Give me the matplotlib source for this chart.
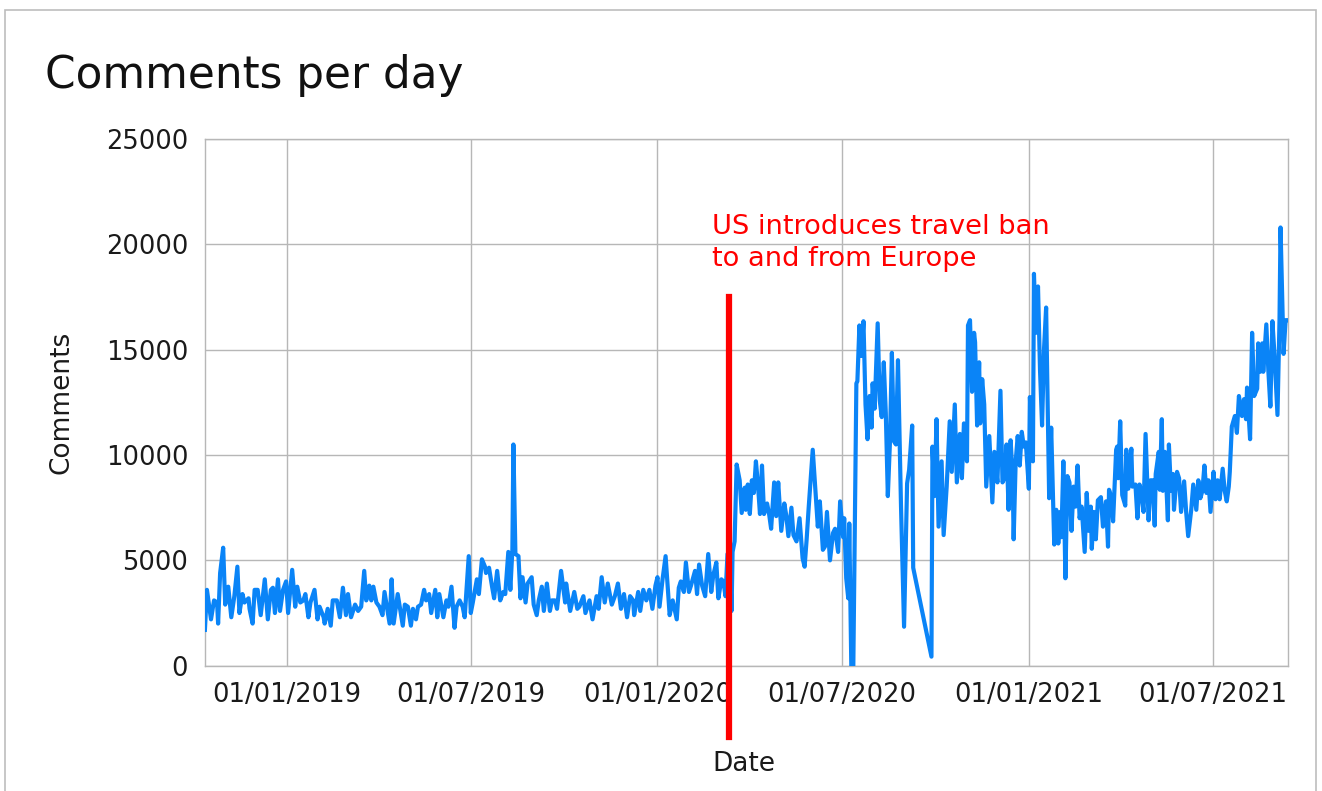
import numpy as np
import pandas as pd
import matplotlib
matplotlib.use("Agg")
import matplotlib.pyplot as plt
import matplotlib.dates as mdates
from matplotlib.patches import Rectangle

# data: days after the first date, comments on that day
start_date = "2018-10-12"
day = [
    0, 2, 6, 9, 12, 13, 15, 18, 20, 23, 26, 29, 32, 34, 37, 39, 43, 44, 47, 49,
    52, 55, 59, 62, 65, 67, 69, 72, 74, 77, 80, 82, 86, 89, 91, 94, 97, 99, 102, 104,
    108, 111, 113, 117, 118, 121, 124, 126, 130, 133, 136, 139, 141, 144, 148, 151, 154, 157, 159, 162,
    164, 166, 169, 172, 175, 177, 182, 184, 186, 190,
    192, 195, 197, 200, 203, 205, 208, 210, 213, 216, 218, 221, 223, 227, 229, 231, 235, 238, 240, 243,
    246, 248, 251, 254, 256, 260, 262, 264, 268, 270, 273, 276, 277, 280, 283, 285, 288, 291, 294, 296,
    299, 301, 303, 304, 306, 309, 311, 313, 316, 318, 322, 324, 327, 329, 332, 334, 337, 340, 342, 345,
    347, 351, 355, 356, 360, 364, 367, 369, 373, 375,
    379, 382, 386, 388, 391, 394, 397, 401, 404, 407, 410, 413, 416, 419, 422, 423, 427, 429, 432, 435,
    438, 441, 444, 446, 448, 451, 454, 458, 461, 465, 467, 469, 472, 474, 477, 479, 483, 485, 487, 490,
    493, 496, 499, 501, 504, 506, 509, 511, 513, 515, 517, 519, 520, 522, 524, 527, 529, 532, 533, 535,
    537, 539, 541, 543, 545, 547, 549, 551, 554, 556, 558,
    561, 563, 565, 568, 571, 573, 575, 578, 580, 583, 586, 589, 591, 593, 595, 599, 602, 604, 606, 609,
    611, 613, 616, 619, 621, 624, 626, 629, 630, 632, 634, 635, 637, 639, 642, 643, 645, 647, 649, 651,
    653, 655, 657, 658, 660, 663, 665, 667, 669, 671, 673, 675, 677, 679, 681, 683, 686, 689, 692, 694,
    697, 698,
    716, 717, 719, 721, 723, 726, 728, 731, 734, 736, 739, 741, 744, 746, 748, 751, 752, 754, 756, 758,
    759, 761, 763, 764, 766, 768, 770, 773, 776, 778, 781, 784, 786, 788, 790, 792, 794, 796, 797, 799,
    801, 803, 805, 807, 809, 812, 813, 816, 817, 819, 821, 823, 825, 827, 829, 832, 834, 837, 839, 841,
    843, 844, 846, 848, 850, 852, 854, 856, 858, 860, 862, 864, 867, 869, 871, 873, 874, 876, 878, 880,
    883, 885, 888, 890, 891, 893, 895, 898, 899, 900, 902, 904, 907, 908, 910, 913, 914, 917, 919, 921,
    923, 925, 927, 930, 932, 934, 936, 937, 940, 941, 943, 944, 946, 949, 950, 952, 954, 955, 958, 960,
    962, 965, 967, 969, 972, 974, 977, 979, 981, 983, 985, 987, 989, 991, 994, 996, 998, 1000, 1003, 1005,
    1007, 1009, 1010, 1012, 1015, 1017, 1019, 1022, 1024, 1026, 1027, 1030, 1032, 1034, 1037, 1038, 1040, 1042, 1043, 1046,
    1048, 1050, 1052, 1054, 1057, 1059, 1060, 1063, 1065, 1067,
]
comments = [
    1700, 3600, 2200, 3100, 3000, 2000, 4400, 5600, 2900, 3750, 2300, 3300, 4700, 2500, 3400, 3000, 3200, 2700, 2000, 3600,
    3600, 2400, 4100, 2200, 3600, 3700, 2500, 4100, 2600, 3600, 4000, 2500, 4550, 2800, 3750, 3000, 3100, 3400, 2300, 3000,
    3600, 2200, 2800, 2300, 2000, 2700, 1900, 3100, 3100, 2300, 3700, 2400, 3400, 2300, 2900, 2600, 2800, 4500, 3100, 3800,
    3100, 3750, 3000, 2800, 2400, 3500, 2000, 4100, 2000, 3400,
    2800, 1900, 2900, 2800, 1900, 2700, 2200, 2800, 2900, 3600, 3100, 3400, 2500, 3600, 2300, 3400, 2300, 3100, 2800, 3750,
    1800, 2800, 3100, 2800, 2300, 5200, 2500, 3000, 4100, 3400, 5050, 4700, 4400, 4650, 3750, 3200, 4500, 3100, 3500, 3400,
    5400, 3600, 5500, 10500, 5300, 5200, 3200, 4200, 3000, 3900, 4200, 2900, 2400, 3100, 3750, 2600, 3900, 2600, 3100, 3100,
    2700, 4500, 3000, 3900, 2600, 3500, 2700, 2800, 3300, 2500,
    3100, 2200, 3300, 2700, 4200, 3000, 3900, 2900, 3300, 3900, 2700, 3400, 2300, 3300, 3100, 2400, 3500, 2600, 3600, 3100,
    3600, 2700, 3800, 4200, 2800, 4100, 5200, 2400, 3100, 2200, 3700, 4000, 3500, 4900, 3500, 3800, 4500, 3400, 4800, 3800,
    3300, 5300, 3500, 4300, 4900, 3200, 4100, 4000, 3300, 5300, 5400, 2600, 5400, 5900, 9550, 8800, 7250, 8450, 7400, 8600,
    7200, 8800, 8200, 9700, 8600, 7200, 9500, 7200, 7700, 7200, 6500,
    8700, 7100, 8700, 6400, 7700, 7100, 6150, 7500, 6200, 5900, 7000, 5100, 4700, 6000, 7500, 10250, 8050, 6600, 7800, 5500,
    5650, 7300, 5000, 6300, 6500, 5400, 7800, 6100, 7000, 4150, 3200, 6750, 0, 0, 13400, 13500, 16150, 14700, 16350, 12400,
    10750, 12800, 11300, 13400, 12200, 16250, 12600, 11800, 14400, 12000, 8050, 10500, 14850, 10650, 10500, 14500, 7550, 1850, 8650, 9300,
    11400, 4650,
    430, 10400, 8050, 11700, 6600, 9700, 6200, 8500, 11600, 9200, 12400, 8700, 11000, 8900, 11500, 9700, 16150, 16400, 13000, 15800,
    15350, 11400, 14400, 11500, 13600, 12400, 8500, 10900, 7750, 10150, 8700, 13050, 8700, 8900, 10500, 7400, 10700, 9000, 6000, 9700,
    10900, 9500, 11100, 10400, 10600, 8400, 12750, 9700, 18600, 15800, 18000, 14000, 11400, 15100, 17000, 7950, 11300, 5750, 7400, 5800,
    7300, 6100, 9700, 4150, 9000, 8700, 6400, 8500, 7550, 9500, 7000, 7550, 5400, 8200, 6400, 7550, 5550, 7300, 6000, 7850,
    8000, 6600, 7800, 5650, 8350, 8050, 6850, 10250, 10400, 8900, 11600, 8100, 7600, 10250, 8400, 10300, 8500, 8600, 7000, 8600,
    8200, 7300, 11000, 6900, 8800, 8800, 6650, 9100, 10150, 8350, 11700, 8300, 10150, 6900, 10500, 8300, 9100, 7400, 9200, 8900,
    7300, 8750, 7300, 6150, 7400, 8600, 7400, 8800, 7950, 8300, 9500, 8200, 8800, 7300, 9200, 7900, 8800, 7900, 9350, 8300,
    7800, 8500, 9200, 11350, 11850, 11050, 12800, 11850, 12650, 11700, 13200, 10750, 15800, 12800, 13150, 15300, 13950, 15300, 13950, 16200,
    14000, 12300, 16350, 14800, 11900, 16400, 20800, 14800, 16400, 16400,
]

ban_date = "2020-03-11"
ban_text = "US introduces travel ban\nto and from Europe"
yticks = [0, 5000, 10000, 15000, 20000, 25000]
xticks = ["2019-01-01", "2019-07-01", "2020-01-01", "2020-07-01", "2021-01-01", "2021-07-01"]

dates = pd.Timestamp(start_date) + pd.to_timedelta(day, unit="D")
ban = pd.Timestamp(ban_date)

plt.rcParams["font.family"] = ["DejaVu Sans"]

fig = plt.figure(figsize=(13.22, 7.91), dpi=100)
ax = fig.add_axes([0.155, 0.1584, 0.819, 0.6659])

grid_col = "#b7b7b7"
ax.plot(dates, comments, color="#0a84f7", lw=3.0, solid_joinstyle="round", zorder=3)

# travel ban marker, runs past the plot area like in the original
ax.plot([ban, ban], [-3400, 17500], color="#ff0000", lw=4.5, clip_on=False, zorder=4)
ax.text(pd.Timestamp(start_date) + pd.Timedelta(days=500), 21450, ban_text,
        color="#ff0000", fontsize=19.6, ha="left", va="top", linespacing=1.3)

ax.set_xlim(pd.Timestamp(start_date), pd.Timestamp(start_date) + pd.Timedelta(days=1067))
ax.set_ylim(0, 25000)
ax.set_yticks(yticks)
ax.set_xticks(pd.to_datetime(xticks))
ax.xaxis.set_major_formatter(mdates.DateFormatter("%d/%m/%Y"))
ax.tick_params(length=0, labelsize=18.5, colors="#1a1a1a")
ax.tick_params(axis="y", pad=12)
ax.tick_params(axis="x", pad=12)
ax.grid(True, color=grid_col, lw=1.0)
for s in ax.spines.values():
    s.set_color(grid_col)
    s.set_linewidth(1.0)

ax.set_xlabel("Date", fontsize=19, color="#1a1a1a")
ax.set_ylabel("Comments", fontsize=19, color="#1a1a1a")
ax.xaxis.set_label_coords(0.498, -0.162)
ax.yaxis.set_label_coords(-0.12, 0.5)

fig.text(45 / 1322, 1 - 88 / 791, "Comments per day", fontsize=31.5, ha="left",
         va="baseline", color="#111111")

# light frame around the whole chart
fig.patches.append(Rectangle((5 / 1322, -0.1), 1311 / 1322, 1.1 - 10 / 791,
                             transform=fig.transFigure, fill=False,
                             edgecolor="#bdbdbd", lw=1.2))

fig.savefig("out.png", dpi=100)
